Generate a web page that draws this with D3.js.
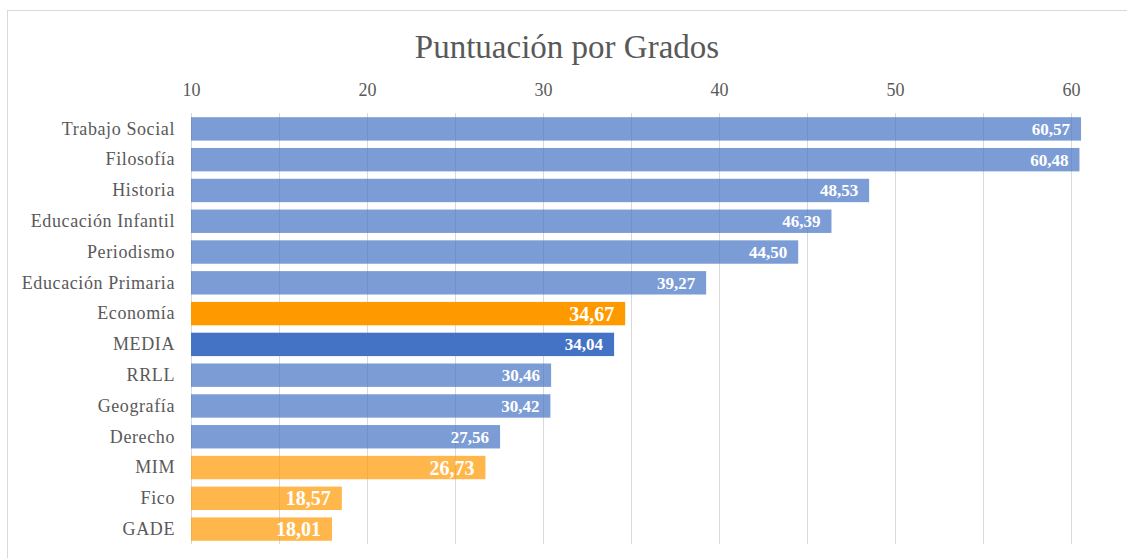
<!DOCTYPE html>
<html lang="es">
<head>
<meta charset="UTF-8">
<title>Puntuación por Grados</title>
<script src="https://cdn.jsdelivr.net/npm/d3@7"></script>
<style>
  body{margin:0;background:#fff;}
  svg text{font-family:"Liberation Serif","Times New Roman",serif;}
  .grid-line{stroke:#d9d9d9;stroke-width:1;shape-rendering:crispEdges;}
</style>
</head>
<body>
<div id="root"></div>
<script>
  // datos
  let categories = ["Trabajo Social","Filosofía","Historia","Educación Infantil","Periodismo","Educación Primaria","Economía","MEDIA","RRLL","Geografía","Derecho","MIM","Fico","GADE"]
  let values = [60.57,60.48,48.53,46.39,44.50,39.27,34.67,34.04,30.46,30.42,27.56,26.73,18.57,18.01]
  let barKind = ["grado","grado","grado","grado","grado","grado","eco","media","grado","grado","grado","eco2","eco2","eco2"]
  let tickLabels = [10,20,30,40,50,60]
  let gridTicks = [10,15,20,25,30,35,40,45,50,55,60]

  let width = 1127, height = 558

  let svg = d3.select("#root").append("svg").attr("width",width).attr("height",height)

  // marco
  svg.append("rect").attr("x",7.5).attr("y",10.5).attr("width",1130).attr("height",560)
    .attr("fill","none").attr("stroke","#d9d9d9")

  svg.append("text").attr("x",567).attr("y",58).attr("text-anchor","middle")
    .style("font-size","33px").style("fill","#595959").text("Puntuación por Grados")

  let x = d3.scaleLinear().domain([10,60]).range([191,1071])
  let y = d3.scaleBand().domain(categories).range([113.5,544.5]).paddingInner(0.24).paddingOuter(0.12)

  // lineas de la cuadricula
  svg.append("g").selectAll("line").data(gridTicks).enter().append("line")
    .classed("grid-line",true)
    .attr("x1",d=>Math.round(x(d))+0.5).attr("x2",d=>Math.round(x(d))+0.5)
    .attr("y1",113).attr("y2",544)

  let xAxis = d3.axisTop(x).tickValues(tickLabels).tickSize(0).tickPadding(0).tickFormat(d3.format("d"))
  let gx = svg.append("g").attr("transform","translate(0,96)").call(xAxis)
  gx.select(".domain").remove()
  gx.selectAll("text").style("font-size","18px").style("fill","#595959")
    .style("font-family","'Liberation Serif','Times New Roman',serif")

  let yAxis = d3.axisLeft(y).tickSize(0).tickPadding(0)
  let gy = svg.append("g").attr("transform","translate(175,0)").call(yAxis)
  gy.select(".domain").remove()
  gy.selectAll("text").style("font-size","18px").style("fill","#595959").style("letter-spacing","0.6px")
    .style("font-family","'Liberation Serif','Times New Roman',serif")

  let fillOf = {grado:"#4472c4",media:"#4472c4",eco:"#ff9900",eco2:"#ff9900"}
  let opacityOf = {grado:0.7,media:1,eco:1,eco2:0.7}
  let bigLabel = {grado:false,media:false,eco:true,eco2:true}

  let rows = categories.map((c,i)=>({cat:c,val:values[i],kind:barKind[i]}))

  svg.append("g").selectAll("rect").data(rows).enter().append("rect")
    .attr("x",x(10)).attr("y",d=>y(d.cat))
    .attr("width",d=>x(d.val)-x(10)).attr("height",y.bandwidth())
    .attr("fill",d=>fillOf[d.kind]).attr("fill-opacity",d=>opacityOf[d.kind])

  svg.append("g").selectAll("text").data(rows).enter().append("text")
    .attr("x",d=>x(d.val)-11).attr("y",d=>y(d.cat)+y.bandwidth()/2)
    .attr("dy","0.35em").attr("text-anchor","end")
    .style("font-weight","bold").style("fill","#fff")
    .style("font-size",d=>bigLabel[d.kind]?"20px":"17px")
    .text(d=>d3.format(".2f")(d.val).replace(".",","))
</script>
</body>
</html>
